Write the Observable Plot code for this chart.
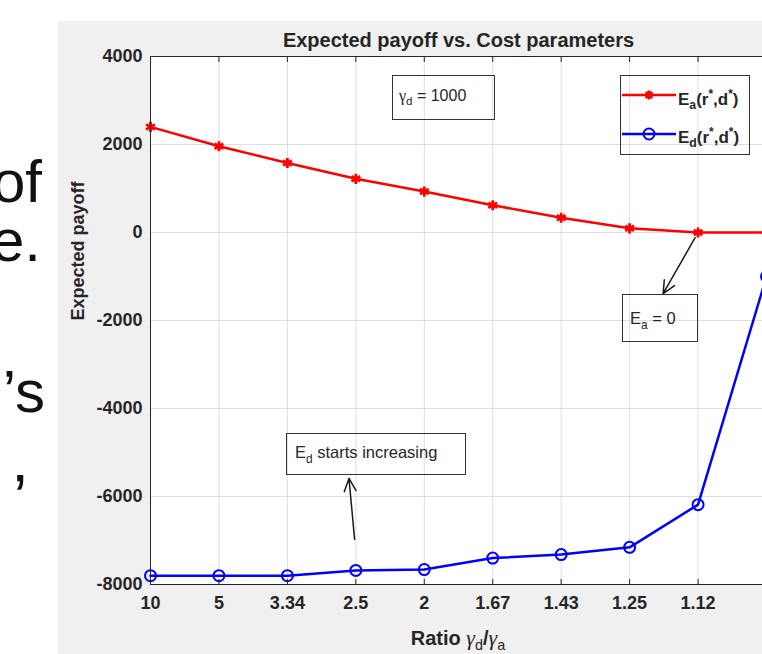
<!DOCTYPE html>
<html>
<head>
<meta charset="utf-8">
<script src="https://cdn.jsdelivr.net/npm/d3@7"></script>
<script src="https://cdn.jsdelivr.net/npm/@observablehq/plot@0.6"></script>
<style>
html,body{margin:0;padding:0;background:#fff;overflow:hidden;}
#page{position:relative;width:762px;height:654px;overflow:hidden;background:#fff;font-family:"Liberation Sans",Arial,Helvetica,sans-serif;color:#262626;}
#panel{position:absolute;left:58px;top:21px;width:704px;height:633px;background:#f0f0f0;overflow:hidden;}
#panel svg{position:absolute;left:0;top:0;max-width:none !important;width:790px !important;height:633px !important;}
.slide{position:absolute;font-size:60px;line-height:1;color:#111;white-space:nowrap;}
.box{position:absolute;border:1px solid #333;box-sizing:border-box;}
.t{position:absolute;line-height:1;white-space:nowrap;}
.sb{font-size:0.72em;position:relative;top:0.38em;line-height:0;}
.sp{font-size:0.7em;position:relative;top:-0.55em;line-height:0;}
.g{font-family:"Liberation Serif","DejaVu Serif",serif;font-style:italic;font-weight:normal;}
</style>
</head>
<body>
<div id="page">
  <div class="slide" style="right:720px;top:152px">of</div>
  <div class="slide" style="right:721px;top:211px">e.</div>
  <div class="slide" style="right:717px;top:362px">’s</div>
  <div class="slide" style="left:13px;top:466px;font-size:64px">’</div>
  <div id="panel"></div>

  <div class="box" style="left:392px;top:75px;width:103px;height:45px"></div>
  <div class="t" style="left:399px;top:88px;font-size:16px"><span class="g" style="font-style:normal">γ</span><span class="sb">d</span> = 1000</div>

  <div class="box" style="left:620px;top:75px;width:130px;height:80px"></div>
  <svg style="position:absolute;left:622px;top:86px" width="54" height="18">
    <line x1="0" y1="9" x2="54" y2="9" stroke="#ff0000" stroke-width="2.5"/>
    <path d="M27,4.5v9M22.5,9h9M23.8,5.8l6.4,6.4M23.8,12.2l6.4,-6.4" stroke="#ff0000" stroke-width="2.5" fill="none"/>
  </svg>
  <svg style="position:absolute;left:622px;top:125px" width="54" height="18">
    <line x1="0" y1="9" x2="54" y2="9" stroke="#0000ff" stroke-width="2.5"/>
    <circle cx="27" cy="9" r="5.5" stroke="#0000ff" stroke-width="2" fill="none"/>
  </svg>
  <div class="t" style="left:678px;top:90.6px;font-size:17px;font-weight:bold">E<span class="sb">a</span>(r<span class="sp">*</span>,d<span class="sp">*</span>)</div>
  <div class="t" style="left:678px;top:128.6px;font-size:17px;font-weight:bold">E<span class="sb">d</span>(r<span class="sp">*</span>,d<span class="sp">*</span>)</div>

  <div class="box" style="left:622px;top:294px;width:76px;height:48px"></div>
  <div class="t" style="left:630px;top:310px;font-size:16.5px">E<span class="sb">a</span> = 0</div>

  <div class="box" style="left:286px;top:433px;width:180px;height:42px"></div>
  <div class="t" style="left:295px;top:444px;font-size:16.5px">E<span class="sb">d</span> starts increasing</div>

  <div class="t" style="left:358px;width:200px;text-align:center;top:627px;font-size:20px;font-weight:bold">Ratio <span class="g" style="font-size:1.1em">γ</span><span class="sb" style="font-weight:normal">d</span>/<span class="g" style="font-size:1.1em">γ</span><span class="sb" style="font-weight:normal">a</span></div>
</div>
<script>
const ratioLabels = ["10", "5", "3.34", "2.5", "2", "1.67", "1.43", "1.25", "1.12", "1"];
const attackerPayoff = [2400, 1960, 1580, 1220, 930, 620, 335, 95, 0, 0];
const defenderPayoff = [-7800, -7800, -7800, -7680, -7660, -7400, -7320, -7155, -6185, -1000];
const payoffTicks = [-8000, -6000, -4000, -2000, 0, 2000, 4000];
const arrowNotes = [
  {x1: 8, y1: 0, x2: 7.49, y2: -1390},
  {x1: 2.99, y1: -7110, x2: 2.9, y2: -5590}
];

const idx = ratioLabels.map((_, i) => i);
const rows = idx.map(i => ({i, ea: attackerPayoff[i], ed: defenderPayoff[i]}));

const chart = Plot.plot({
  width: 790,
  height: 633,
  marginLeft: 92,
  marginRight: 82,
  marginTop: 35,
  marginBottom: 70,
  style: {background: "transparent", fontFamily: "'Liberation Sans', Arial, sans-serif", color: "#262626", maxWidth: "none"},
  x: {type: "linear", domain: [0, ratioLabels.length - 1]},
  y: {domain: [-8000, 4000]},
  marks: [
    Plot.frame({fill: "white", stroke: "none"}),
    Plot.gridX(idx, {stroke: "#dedede", strokeOpacity: 1}),
    Plot.gridY(payoffTicks, {stroke: "#dedede", strokeOpacity: 1}),
    Plot.line(rows, {x: "i", y: "ea", stroke: "#ff0000", strokeWidth: 2.5}),
    Plot.dot(rows, {x: "i", y: "ea", symbol: "asterisk", stroke: "#ff0000", strokeWidth: 2.8, r: 4.8}),
    Plot.line(rows, {x: "i", y: "ed", stroke: "#0000ff", strokeWidth: 2.5}),
    Plot.dot(rows, {x: "i", y: "ed", symbol: "circle", fill: "none", stroke: "#0000ff", strokeWidth: 2, r: 5.5}),
    Plot.frame({stroke: "#262626", strokeWidth: 1}),
    Plot.axisX(idx, {anchor: "bottom", tickSize: -5, tickPadding: 17, tickFormat: i => ratioLabels[i], fontSize: 18, fontWeight: "bold", label: null}),
    Plot.axisX(idx, {anchor: "top", tickSize: -5, tickFormat: () => "", label: null}),
    Plot.axisY(payoffTicks, {anchor: "left", tickSize: 0, tickPadding: 8, tickFormat: d => String(d), fontSize: 18, fontWeight: "bold", label: null}),
    Plot.arrow(arrowNotes, {x1: "x1", y1: "y1", x2: "x2", y2: "y2", stroke: "#1a1a1a", strokeWidth: 1.5, headLength: 14, headAngle: 50, insetStart: 6}),
    Plot.text(["Expected payoff vs. Cost parameters"], {frameAnchor: "top", dy: -24, fontSize: 20, fontWeight: "bold", fill: "#262626"}),
    Plot.text(["Expected payoff"], {frameAnchor: "left", dx: -72, rotate: -90, fontSize: 18, fontWeight: "bold", fill: "#262626"})
  ]
});
document.getElementById("panel").appendChild(chart);
</script>
</body>
</html>
